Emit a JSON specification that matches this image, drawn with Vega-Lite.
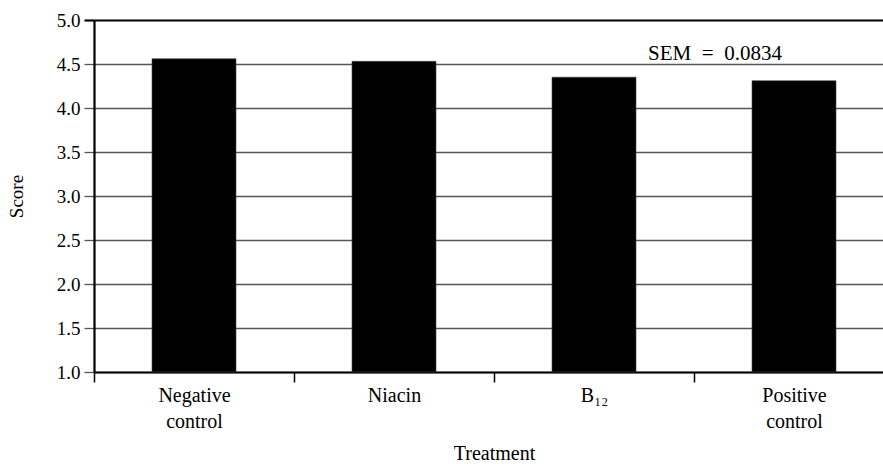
{
  "$schema": "https://vega.github.io/schema/vega-lite/v6.json",
  "autosize": "none",
  "padding": {"left": 94, "top": 20, "right": 0, "bottom": 92},
  "width": 789,
  "height": 352,
  "config": {"view": {"stroke": null}, "font": "Liberation Serif"},
  "data": {
    "values": [
      {"Treatment": "Negative control", "Score": 4.56},
      {"Treatment": "Niacin", "Score": 4.53},
      {"Treatment": "B₁₂", "Score": 4.35},
      {"Treatment": "Positive control", "Score": 4.31}
    ]
  },
  "layer": [
    {
      "mark": {"type": "bar", "color": "black", "stroke": "#444", "strokeWidth": 0.6, "width": {"band": 0.42}},
      "encoding": {
        "x": {
          "field": "Treatment",
          "type": "nominal",
          "sort": null,
          "scale": {"range": [0, 800], "paddingInner": 0, "paddingOuter": 0},
          "axis": {
            "title": "Treatment",
            "titleFontSize": 20,
            "titleFontWeight": "normal",
            "titleColor": "black",
            "titlePadding": 12,
            "labelAngle": 0,
            "labelFontSize": 20,
            "labelColor": "black",
            "labelLineHeight": 26,
            "labelPadding": 3,
            "labelExpr": "split(datum.label, ' ')",
            "tickBand": "extent",
            "tickSize": 10,
            "tickColor": "black",
            "tickWidth": 1.5,
            "domainColor": "black",
            "domainWidth": 2.2,
            "grid": false
          }
        },
        "y": {
          "field": "Score",
          "type": "quantitative",
          "scale": {"domain": [1, 5], "nice": false, "zero": false},
          "axis": {
            "title": "Score",
            "titleFontSize": 19,
            "titleFontWeight": "normal",
            "titleColor": "black",
            "titleX": -68,
            "values": [1, 1.5, 2, 2.5, 3, 3.5, 4, 4.5, 5],
            "format": ".1f",
            "labelFontSize": 19,
            "labelColor": "black",
            "labelPadding": 4,
            "tickSize": 10,
            "tickColor": {"condition": {"test": "datum.value == 5", "value": "black"}, "value": "#555"},
            "tickWidth": {"condition": {"test": "datum.value == 5", "value": 2.2}, "value": 1.3},
            "grid": true,
            "gridColor": {"condition": {"test": "datum.value == 5", "value": "black"}, "value": "#555"},
            "gridWidth": {"condition": {"test": "datum.value == 5", "value": 2.2}, "value": 1.3},
            "gridOpacity": 1,
            "domainColor": "black",
            "domainWidth": 2.2
          }
        },
        "y2": {"datum": 1}
      }
    },
    {
      "data": {"values": [{"note": "SEM\u00a0 =\u00a0 0.0834"}]},
      "mark": {"type": "text", "dx": -79, "fontSize": 21, "baseline": "alphabetic", "align": "center", "color": "black"},
      "encoding": {
        "x": {"datum": "Positive control"},
        "y": {"datum": 4.545},
        "text": {"field": "note"}
      }
    }
  ]
}
